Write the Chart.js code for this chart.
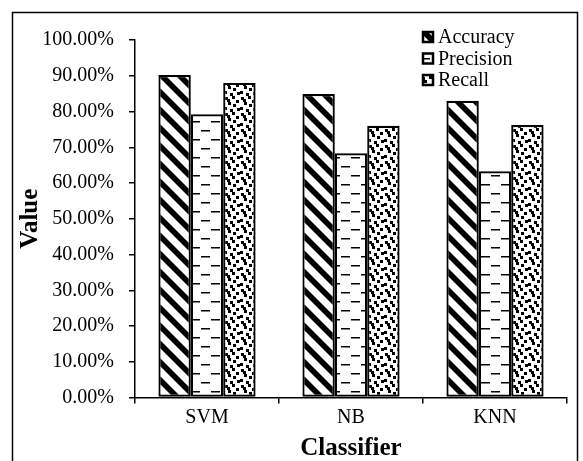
<!DOCTYPE html>
<html>
<head>
<meta charset="utf-8">
<script src="https://cdn.jsdelivr.net/npm/chart.js@4/dist/chart.umd.min.js"></script>
<style>
  html, body { margin: 0; padding: 0; background: #fff; }
  #wrap { width: 583px; height: 461px; position: relative; }
</style>
</head>
<body>
<div id="wrap"><canvas id="c" width="583" height="461"></canvas></div>
<script>
// Classifier results (percent)
const categories = ['SVM', 'NB', 'KNN'];
const seriesNames = ['Accuracy', 'Precision', 'Recall'];
const accuracy = [90.2, 84.9, 83.0];
const precision = [79.2, 68.3, 63.3];
const recall = [88.0, 76.0, 76.2];
const yTicks = [0, 10, 20, 30, 40, 50, 60, 70, 80, 90, 100];

const FONT = "'Liberation Serif', 'Times New Roman', serif";

// --- monochrome fill patterns ---
function tile(w, h, paint) {
  const c = document.createElement('canvas');
  c.width = w; c.height = h;
  const g = c.getContext('2d');
  g.fillStyle = '#fff';
  g.fillRect(0, 0, w, h);
  g.fillStyle = '#000';
  g.strokeStyle = '#000';
  paint(g, w, h);
  return document.getElementById('c').getContext('2d').createPattern(c, 'repeat');
}

// wide downward diagonal stripes
const diagPattern = tile(18, 18, (g, w, h) => {
  const band = 8;
  for (let k = -1; k <= 1; k++) {
    g.beginPath();
    g.moveTo(0, k * h);
    g.lineTo(w, h + k * h);
    g.lineTo(w, h + k * h + band);
    g.lineTo(0, k * h + band);
    g.closePath();
    g.fill();
  }
});

// staggered short horizontal dashes
const dashPattern = tile(20, 18, (g) => {
  g.fillRect(1, 4, 9, 1.5);
  g.fillRect(11, 13, 9, 1.5);
});

// scattered small dots
const dotPattern = tile(16, 16, (g) => {
  const pts = [[1, 1], [8, 0], [12, 4], [4, 6], [9, 8], [0, 11], [13, 12], [6, 13], [3, 3]];
  pts.forEach(([x, y]) => g.fillRect(x, y, 3, 3));
});

const fills = [diagPattern, dashPattern, dotPattern];
const values = [accuracy, precision, recall];

// frame around the whole figure
const framePlugin = {
  id: 'frame',
  beforeDraw(chart) {
    const ctx = chart.ctx;
    ctx.save();
    ctx.fillStyle = '#fff';
    ctx.fillRect(0, 0, chart.width, chart.height);
    ctx.strokeStyle = '#000';
    ctx.lineWidth = 1.5;
    ctx.strokeRect(12.5, 12.5, 565, 470);
    ctx.restore();
  }
};

// legend drawn in the upper right of the plot
const legendPlugin = {
  id: 'cornerLegend',
  afterDraw(chart) {
    const ctx = chart.ctx;
    ctx.save();
    ctx.font = '20px ' + FONT;
    ctx.textBaseline = 'middle';
    ctx.textAlign = 'left';
    chart.data.datasets.forEach((ds, i) => {
      const cy = 37 + i * 21.5;
      const bx = 422, by = cy - 6;
      ctx.fillStyle = ds.backgroundColor;
      ctx.fillRect(bx, by, 12, 12);
      ctx.strokeStyle = '#000';
      ctx.lineWidth = 2.5;
      ctx.strokeRect(bx + 1, by + 1, 10, 10);
      ctx.fillStyle = '#000';
      ctx.fillText(ds.label, 438, cy + 1);
    });
    ctx.restore();
  }
};

new Chart(document.getElementById('c'), {
  type: 'bar',
  data: {
    labels: categories,
    datasets: seriesNames.map((name, i) => ({
      label: name,
      data: values[i],
      backgroundColor: fills[i],
      borderColor: '#000',
      borderWidth: 2.2,
      borderSkipped: false,
      categoryPercentage: 0.675,
      barPercentage: 1.0
    }))
  },
  options: {
    responsive: false,
    animation: false,
    devicePixelRatio: 1,
    layout: { padding: { left: 0, top: 40, right: 16, bottom: 0 } },
    plugins: {
      legend: { display: false },
      tooltip: { enabled: false }
    },
    scales: {
      x: {
        grid: { drawOnChartArea: false, drawTicks: true, tickLength: 6, color: '#000', lineWidth: 1.5, offset: true },
        border: { display: true, color: '#000', width: 1.5 },
        ticks: { color: '#000', padding: 2, font: { family: FONT, size: 20 } },
        title: {
          display: true, text: 'Classifier', color: '#000',
          font: { family: FONT, size: 25, weight: 'bold', lineHeight: 1 },
          padding: { top: 0, bottom: 0 }
        },
        afterFit(s) { s.height = 63.5; }
      },
      y: {
        min: 0, max: 100,
        afterBuildTicks(s) { s.ticks = yTicks.map(v => ({ value: v })); },
        grid: { drawOnChartArea: false, drawTicks: true, tickLength: 6, color: '#000', lineWidth: 1.5 },
        border: { display: true, color: '#000', width: 1.5 },
        ticks: {
          color: '#000', padding: 15,
          font: { family: FONT, size: 20 },
          callback: v => v.toFixed(2) + '%'
        },
        title: {
          display: true, text: 'Value', color: '#000',
          font: { family: FONT, size: 25, weight: 'bold' },
          padding: { top: 16, bottom: 0 }
        },
        afterFit(s) { s.width = 135; }
      }
    }
  },
  plugins: [framePlugin, legendPlugin]
});
</script>
</body>
</html>
